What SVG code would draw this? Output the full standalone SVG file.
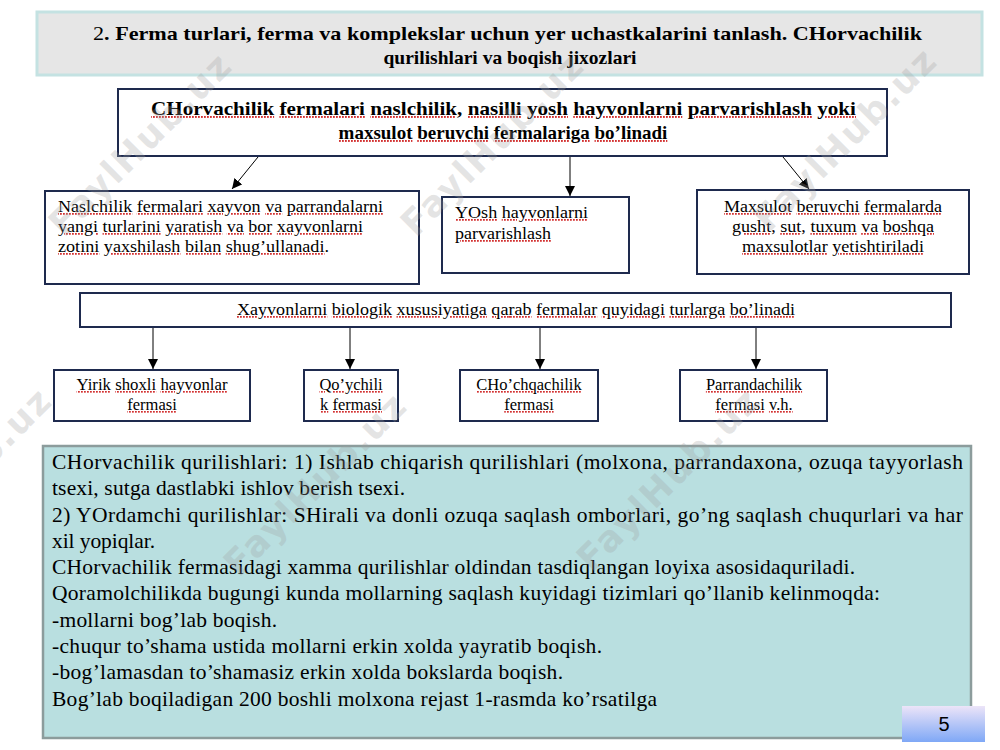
<svg xmlns="http://www.w3.org/2000/svg" width="1000" height="750" viewBox="0 0 1000 750">
<defs>
<marker id="ah" viewBox="0 0 10 10" refX="10" refY="5" markerWidth="10" markerHeight="10" markerUnits="userSpaceOnUse" orient="auto">
<path d="M0,0 L10,5 L0,10 z" fill="#000"/>
</marker>
<linearGradient id="pg" x1="0" y1="0" x2="0" y2="1">
<stop offset="0" stop-color="#ece4f8"/>
<stop offset="1" stop-color="#7fa8f6"/>
</linearGradient>
<pattern id="wv" patternUnits="userSpaceOnUse" width="3" height="3">
<rect x="0" y="0" width="1.8" height="3" fill="#d23030"/>
</pattern>
<style>
.box{fill:#fff;stroke:#1e2a4e;stroke-width:2}
.tb{font-family:"Liberation Serif","Times New Roman",serif;font-weight:bold;fill:#000}
.t{font-family:"Liberation Serif","Times New Roman",serif;fill:#000}
.w{text-decoration:underline;fill:url(#wv)}
.w>tspan{fill:#000}
.con{stroke:#000;stroke-width:1;fill:none;marker-end:url(#ah)}
.wm{font-family:"DejaVu Sans",sans-serif;font-weight:bold;font-size:36px;fill:#a0a0a0;fill-opacity:0.28}
</style>
</defs>
<rect width="1000" height="750" fill="#fff"/>

<g id="title">
<rect x="37" y="12" width="945" height="63" fill="#e6e6e6" stroke="#c4e2e2" stroke-width="3"/>
<text class="tb" x="93" y="40" font-size="19.5" textLength="829" lengthAdjust="spacingAndGlyphs"><tspan font-weight="normal">2</tspan>. Ferma turlari, ferma va komplekslar uchun yer uchastkalarini tanlash. CHorvachilik</text>
<text class="tb" x="510" y="64" font-size="19.5" text-anchor="middle">qurilishlari va boqish jixozlari</text>
</g>

<g id="main">
<rect class="box" x="118" y="89" width="769" height="67"/>
<text class="tb" x="151" y="115" font-size="19" textLength="705" lengthAdjust="spacingAndGlyphs"><tspan class="w"><tspan>CHorvachilik</tspan></tspan> <tspan class="w"><tspan>fermalari</tspan></tspan> <tspan class="w"><tspan>naslchilik,</tspan></tspan> <tspan class="w"><tspan>nasilli</tspan></tspan> <tspan class="w"><tspan>yosh</tspan></tspan> <tspan class="w"><tspan>hayvonlarni</tspan></tspan> <tspan class="w"><tspan>parvarishlash</tspan></tspan> <tspan class="w"><tspan>yoki</tspan></tspan></text>
<text class="tb" x="503" y="139" font-size="19" text-anchor="middle"><tspan class="w"><tspan>maxsulot</tspan></tspan> <tspan class="w"><tspan>beruvchi</tspan></tspan> <tspan class="w"><tspan>fermalariga</tspan></tspan> <tspan class="w"><tspan>bo’linadi</tspan></tspan></text>
</g>

<g id="nasl">
<rect class="box" x="45" y="191" width="374" height="93"/>
<text class="t" x="58" y="212" font-size="17.5" textLength="325" lengthAdjust="spacingAndGlyphs"><tspan class="w"><tspan>Naslchilik</tspan></tspan> <tspan class="w"><tspan>fermalari</tspan></tspan> <tspan class="w"><tspan>xayvon</tspan></tspan> <tspan class="w"><tspan>va</tspan></tspan> <tspan class="w"><tspan>parrandalarni</tspan></tspan></text>
<text class="t" x="58" y="232" font-size="17.5" textLength="305" lengthAdjust="spacingAndGlyphs"><tspan class="w"><tspan>yangi</tspan></tspan> <tspan class="w"><tspan>turlarini</tspan></tspan> <tspan class="w"><tspan>yaratish</tspan></tspan> <tspan class="w"><tspan>va</tspan></tspan> <tspan class="w"><tspan>bor</tspan></tspan> <tspan class="w"><tspan>xayvonlarni</tspan></tspan></text>
<text class="t" x="58" y="252" font-size="17.5" textLength="271" lengthAdjust="spacingAndGlyphs"><tspan class="w"><tspan>zotini</tspan></tspan> <tspan class="w"><tspan>yaxshilash</tspan></tspan> <tspan class="w"><tspan>bilan</tspan></tspan> <tspan class="w"><tspan>shug’ullanadi</tspan></tspan>.</text>
</g>

<g id="yosh">
<rect class="box" x="442" y="197" width="187" height="76"/>
<text class="t" x="455" y="218" font-size="17.5" textLength="133" lengthAdjust="spacingAndGlyphs"><tspan class="w"><tspan>YOsh</tspan></tspan> <tspan class="w"><tspan>hayvonlarni</tspan></tspan></text>
<text class="t" x="455" y="239" font-size="17.5" textLength="96" lengthAdjust="spacingAndGlyphs"><tspan class="w"><tspan>parvarishlash</tspan></tspan></text>
</g>

<g id="maxsulot">
<rect class="box" x="697" y="190" width="272" height="84"/>
<text class="t" x="833" y="212" font-size="17.5" text-anchor="middle" textLength="218" lengthAdjust="spacingAndGlyphs"><tspan class="w"><tspan>Maxsulot</tspan></tspan> <tspan class="w"><tspan>beruvchi</tspan></tspan> <tspan class="w"><tspan>fermalarda</tspan></tspan></text>
<text class="t" x="833" y="232" font-size="17.5" text-anchor="middle" textLength="202" lengthAdjust="spacingAndGlyphs"><tspan class="w"><tspan>gusht,</tspan></tspan> <tspan class="w"><tspan>sut,</tspan></tspan> <tspan class="w"><tspan>tuxum</tspan></tspan> <tspan class="w"><tspan>va</tspan></tspan> <tspan class="w"><tspan>boshqa</tspan></tspan></text>
<text class="t" x="833" y="252" font-size="17.5" text-anchor="middle" textLength="182" lengthAdjust="spacingAndGlyphs"><tspan class="w"><tspan>maxsulotlar</tspan></tspan> <tspan class="w"><tspan>yetishtiriladi</tspan></tspan></text>
</g>

<g id="bar">
<rect class="box" x="80" y="293" width="871" height="34"/>
<text class="t" x="516" y="315" font-size="17.5" text-anchor="middle" textLength="558" lengthAdjust="spacingAndGlyphs"><tspan class="w"><tspan>Xayvonlarni</tspan></tspan> <tspan class="w"><tspan>biologik</tspan></tspan> <tspan class="w"><tspan>xususiyatiga</tspan></tspan> <tspan class="w"><tspan>qarab</tspan></tspan> <tspan class="w"><tspan>fermalar</tspan></tspan> <tspan class="w"><tspan>quyidagi</tspan></tspan> <tspan class="w"><tspan>turlarga</tspan></tspan> <tspan class="w"><tspan>bo’linadi</tspan></tspan></text>
</g>

<g id="yirik">
<rect class="box" x="54" y="370" width="196" height="51"/>
<text class="t" x="152" y="390" font-size="16.5" text-anchor="middle" textLength="151" lengthAdjust="spacingAndGlyphs"><tspan class="w"><tspan>Yirik</tspan></tspan> <tspan class="w"><tspan>shoxli</tspan></tspan> <tspan class="w"><tspan>hayvonlar</tspan></tspan></text>
<text class="t" x="152" y="410" font-size="16.5" text-anchor="middle"><tspan class="w"><tspan>fermasi</tspan></tspan></text>
</g>

<g id="qoy">
<rect class="box" x="304" y="370" width="94" height="51"/>
<text class="t" x="351" y="390" font-size="16.5" text-anchor="middle"><tspan class="w"><tspan>Qo’ychili</tspan></tspan></text>
<text class="t" x="351" y="410" font-size="16.5" text-anchor="middle"><tspan class="w"><tspan>k</tspan></tspan> <tspan class="w"><tspan>fermasi</tspan></tspan></text>
</g>

<g id="chochqa">
<rect class="box" x="460" y="370" width="138" height="51"/>
<text class="t" x="529" y="390" font-size="16.5" text-anchor="middle"><tspan class="w"><tspan>CHo’chqachilik</tspan></tspan></text>
<text class="t" x="529" y="410" font-size="16.5" text-anchor="middle"><tspan class="w"><tspan>fermasi</tspan></tspan></text>
</g>

<g id="parranda">
<rect class="box" x="680" y="370" width="147" height="51"/>
<text class="t" x="754" y="390" font-size="16.5" text-anchor="middle"><tspan class="w"><tspan>Parrandachilik</tspan></tspan></text>
<text class="t" x="754" y="410" font-size="16.5" text-anchor="middle"><tspan class="w"><tspan>fermasi</tspan></tspan> <tspan class="w"><tspan>v.h.</tspan></tspan></text>
</g>

<g id="connectors">
<line class="con" x1="258" y1="157" x2="232" y2="189"/>
<line class="con" x1="570" y1="157" x2="570" y2="196"/>
<line class="con" x1="783" y1="157" x2="809" y2="189"/>
<line class="con" x1="153" y1="328" x2="153" y2="369"/>
<line class="con" x1="350" y1="328" x2="350" y2="369"/>
<line class="con" x1="540" y1="328" x2="540" y2="369"/>
<line class="con" x1="756" y1="328" x2="756" y2="369"/>
</g>

<g id="textbox">
<rect x="43" y="446" width="928" height="292" fill="#b9dfe0" stroke="#8c9c9c" stroke-width="2.5"/>
<g class="t" font-size="21.5">
<text x="52" y="469" textLength="911">CHorvachilik qurilishlari: 1) Ishlab chiqarish qurilishlari (molxona, parrandaxona, ozuqa tayyorlash</text>
<text x="52" y="495" textLength="353">tsexi, sutga dastlabki ishlov berish tsexi.</text>
<text x="52" y="522" textLength="911">2) YOrdamchi qurilishlar: SHirali va donli ozuqa saqlash omborlari, go’ng saqlash chuqurlari va har</text>
<text x="52" y="548" textLength="103">xil yopiqlar.</text>
<text x="52" y="574" textLength="803">CHorvachilik fermasidagi xamma qurilishlar oldindan tasdiqlangan loyixa asosidaquriladi.</text>
<text x="52" y="600" textLength="828">Qoramolchilikda bugungi kunda mollarning saqlash kuyidagi tizimlari qo’llanib kelinmoqda:</text>
<text x="52" y="627" textLength="225">-mollarni bog’lab boqish.</text>
<text x="52" y="653" textLength="550">-chuqur to’shama ustida mollarni erkin xolda yayratib boqish.</text>
<text x="52" y="679" textLength="511">-bog’lamasdan to’shamasiz erkin xolda bokslarda boqish.</text>
<text x="52" y="706" textLength="605">Bog’lab boqiladigan 200 boshli molxona rejast 1-rasmda ko’rsatilga</text>
</g>
</g>

<g id="pagenum">
<rect x="902" y="706" width="83" height="36" fill="url(#pg)"/>
<text x="944" y="731" font-family="Liberation Sans, Arial, sans-serif" font-size="20" text-anchor="middle" fill="#000">5</text>
</g>

<g id="watermark">
<text class="wm" transform="translate(140,145) rotate(-45)" x="0" y="12" text-anchor="middle" textLength="240">FaylHub.uz</text>
<text class="wm" transform="translate(492,145) rotate(-45)" x="0" y="12" text-anchor="middle" textLength="240">FaylHub.uz</text>
<text class="wm" transform="translate(845,140) rotate(-45)" x="0" y="12" text-anchor="middle" textLength="240">FaylHub.uz</text>
<text class="wm" transform="translate(-40,480) rotate(-45)" x="0" y="12" text-anchor="middle" textLength="240">FaylHub.uz</text>
<text class="wm" transform="translate(315,485) rotate(-45)" x="0" y="12" text-anchor="middle" textLength="240">FaylHub.uz</text>
<text class="wm" transform="translate(668,480) rotate(-45)" x="0" y="12" text-anchor="middle" textLength="240">FaylHub.uz</text>
</g>
</svg>
